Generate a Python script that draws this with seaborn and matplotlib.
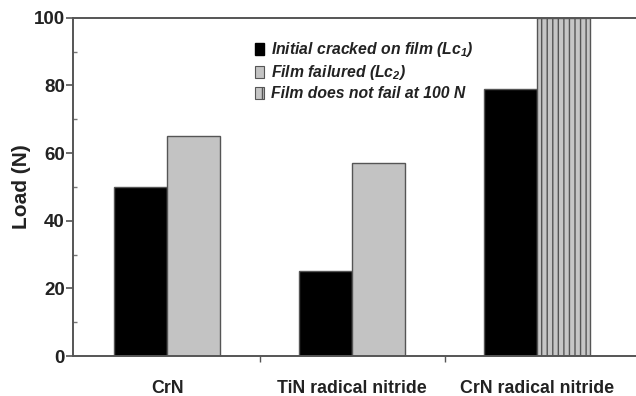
import matplotlib
matplotlib.use("Agg")
import matplotlib.pyplot as plt
from matplotlib.patches import Patch
from matplotlib.ticker import MultipleLocator, FixedLocator
import seaborn as sns
import pandas as pd

# Scratch-test critical loads
coatings = ["CrN", "TiN radical nitride", "CrN radical nitride"]
lc1_load = [50, 25, 79]
lc2_load = [65, 57, 100]
lc2_survived = [False, False, True]  # True: film did not fail up to 100 N

series_names = ["Lc1", "Lc2"]
legend_labels = [
    r"Initial cracked on film (Lc$_1$)",
    r"Film failured (Lc$_2$)",
    "Film does not fail at 100 N",
]

df = pd.DataFrame({
    "coating": coatings * 2,
    "load": lc1_load + lc2_load,
    "series": [series_names[0]] * 3 + [series_names[1]] * 3,
})

sns.set_style("ticks")
plt.rcParams["font.family"] = ["Liberation Sans", "DejaVu Sans"]
plt.rcParams["mathtext.fontset"] = "custom"
plt.rcParams["mathtext.rm"] = "Liberation Sans:bold:italic"
plt.rcParams["mathtext.it"] = "Liberation Sans:bold:italic"
plt.rcParams["mathtext.default"] = "rm"
plt.rcParams["hatch.color"] = "#6a6a6a"
plt.rcParams["hatch.linewidth"] = 1.0

fig = plt.figure(figsize=(6.36, 3.96), dpi=100)
ax = fig.add_axes([0.115, 0.101, 0.885, 0.854])

black = "#000000"
grey = "#c3c3c3"
edge = "#555555"

sns.barplot(
    data=df, x="coating", y="load", hue="series", order=coatings,
    hue_order=series_names, palette=[black, grey], width=0.573,
    edgecolor=edge, linewidth=1.0, legend=False, ax=ax, errorbar=None,
)

# Hatch the Lc2 bars of films that never failed
lc2_bars = ax.containers[1]
for bar, survived in zip(lc2_bars, lc2_survived):
    if survived:
        bar.set_hatch("|||")
        bar.set_facecolor("#c6c6c6")

ax.set_xlim(-0.508, 2.535)
ax.set_ylim(0, 100)
ax.yaxis.set_major_locator(MultipleLocator(20))
ax.yaxis.set_minor_locator(MultipleLocator(10))
ax.xaxis.set_major_locator(FixedLocator([0, 1, 2]))
ax.xaxis.set_minor_locator(FixedLocator([0.5, 1.5]))
ax.tick_params(axis="x", which="major", length=0, pad=17)
ax.tick_params(axis="x", which="minor", length=4, width=1.0, color="#555555", direction="out")
ax.tick_params(axis="y", which="major", length=5, width=1.2, color="#555555",
               direction="out", pad=1)
ax.tick_params(axis="y", which="minor", length=3, width=1.0, color="#777777", direction="in")
ax.set_xticklabels(coatings, fontsize=12.8, fontweight="bold", color="#222222")
for lab in ax.get_yticklabels():
    lab.set_fontsize(13.5)
    lab.set_fontweight("bold")
    lab.set_color("#222222")

ax.set_xlabel("")
ax.set_ylabel("Load (N)", fontsize=15, fontweight="bold", color="#222222", labelpad=2)

for side in ["left", "bottom", "top"]:
    ax.spines[side].set_color("#555555")
    ax.spines[side].set_linewidth(1.4)
ax.spines["right"].set_visible(False)

handles = [
    Patch(facecolor=black, edgecolor=black),
    Patch(facecolor=grey, edgecolor=edge, linewidth=0.8),
    Patch(facecolor="#c6c6c6", edgecolor=edge, hatch="||", linewidth=0.8),
]
leg = ax.legend(
    handles, legend_labels, loc="upper left", bbox_to_anchor=(0.298, 0.975),
    frameon=False, handlelength=0.55, handleheight=0.75, handletextpad=0.5,
    labelspacing=0.25, prop={"size": 11.3, "weight": "bold", "style": "italic"},
)
for t in leg.get_texts():
    t.set_color("#222222")

fig.savefig("out.png", dpi=100)
